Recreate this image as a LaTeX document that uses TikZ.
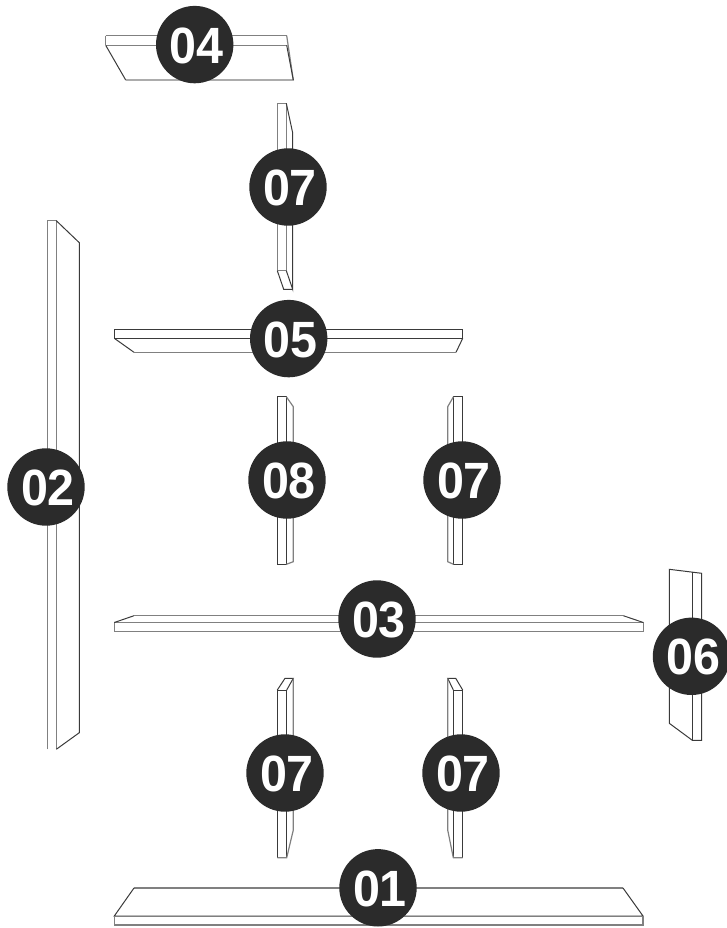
\documentclass[tikz,border=0pt]{standalone}
\usepackage{fontspec}
\setmainfont{Liberation Sans}
\newfontfamily\badgefont[FakeStretch=0.95]{Liberation Sans}
\definecolor{badgefill}{HTML}{2B2B2B}
\definecolor{edgedark}{HTML}{3A3A3A}
\definecolor{edgegray}{HTML}{808080}
\newcommand{\badgetext}[1]{\hspace*{4pt}#1}
\tikzset{
  edgeD/.style={draw=edgedark,line width=1pt,line join=miter},
  edgeG/.style={draw=edgegray,line width=1.2pt,line join=miter},
  badge/.style={circle,fill=badgefill,draw=none,minimum size=77.4pt,inner sep=0pt,
    text=white,text height=37pt,text depth=0pt,font=\badgefont\fontsize{51}{51}\selectfont\bfseries}
}
\begin{document}
\begin{tikzpicture}[x=1pt,y=-1pt]
\useasboundingbox (0,0) rectangle (727,928);
% 04
\draw[edgeG] (105.7,35.7) -- (286.7,35.7);
\draw[edgeG] (105.7,45.3) -- (286.7,45.3);
\draw[edgeG] (105.7,35.7) -- (105.7,45.3);
\draw[edgeD] (105.7,45.3) -- (125.7,80);
\draw[edgeG] (125.7,80) -- (293.3,80) -- (286.7,35.7);
\draw[edgeD] (286.7,45.3) -- (293.3,80);
% 07 top
\draw[edgeG] (277.3,103.3) rectangle (286.3,270.7);
\draw[edgeD] (286.3,103.3) -- (292.7,133) -- (292.7,289.3) -- (286.3,270.7);
\draw[edgeD] (277.3,270.7) -- (283.7,289.3) -- (292.7,289.3);
% 02
\draw[edgeG] (47.3,749.3) -- (47.3,220.7) -- (56.3,220.7) -- (56.3,749.3);
\draw[edgeD] (56.3,220.7) -- (79.3,242.7) -- (79.3,732.7) -- (56.3,749.3);
% 05
\draw[edgeD] (114.3,338.3) -- (114.3,329.3) -- (462.7,329.3) -- (462.7,338.3) -- cycle;
\draw[edgeD] (114.3,338.3) -- (134,352.3);
\draw[edgeD] (462.7,338.3) -- (456,352.3);
\draw[edgeG] (134,352.3) -- (456,352.3);
% 08
\draw[edgeD] (277.5,564.3) -- (277.5,396.7) -- (286.3,396.7) -- (286.3,564.3) -- cycle;
\draw[edgeG] (286.3,396.7) -- (293.3,406.7) -- (293.3,561.7) -- (286.3,564.3);
% 07 middle right
\draw[edgeD] (453.5,564.3) -- (453.5,396.7) -- (462.7,396.7) -- (462.7,564.3) -- cycle;
\draw[edgeG] (453.5,396.7) -- (447.7,406.7) -- (447.7,561.7) -- (453.5,564.3);
% 03
\draw[edgeG] (114.3,622.5) rectangle (643.3,631.7);
\draw[edgeD] (114.3,622.5) -- (134,615.7);
\draw[edgeD] (643.3,622.5) -- (623.3,615.7);
\draw[edgeG] (134,615.7) -- (623.3,615.7);
% 06
\draw[edgeD] (669.3,569.3) -- (701.7,573.3) -- (701.7,740.3) -- (692.3,740.3) -- (669.3,723.3) -- cycle;
\draw[edgeD] (692.3,572.2) -- (692.3,740.3);
% 07 lower left
\draw[edgeD] (277.3,857.7) -- (277.3,690) -- (286.7,690) -- (286.7,857.7);
\draw[edgeD] (277.3,690) -- (285,678.3) -- (293.3,678.3) -- (286.7,690);
\draw[edgeG] (293.3,678.3) -- (293.3,830) -- (286.7,857.7) -- (277.3,857.7);
% 07 lower right
\draw[edgeD] (462.7,857.7) -- (462.7,690) -- (453.3,690) -- (453.3,857.7);
\draw[edgeD] (462.7,690) -- (455.7,678.3) -- (447.7,678.3) -- (453.3,690);
\draw[edgeG] (447.7,678.3) -- (447.7,830) -- (453.3,857.7) -- (462.7,857.7);
% 01
\draw[edgeG] (134,888) -- (623,888);
\draw[edgeD] (134,888) -- (114.3,916) -- (643,916) -- (623,888);
\draw[edgeG] (114.3,916) -- (114.3,925) -- (643,925) -- (643,916);
% badges
\node[badge] (n04) at (194.7,44.6) {\badgetext{04}};
\node[badge] (n07a) at (288,187) {\badgetext{07}};
\node[badge] (n05) at (288.7,338.6) {\badgetext{05}};
\node[badge] (n02) at (46,487) {\badgetext{02}};
\node[badge] (n08) at (287,480) {\badgetext{08}};
\node[badge] (n07b) at (462,480) {\badgetext{07}};
\node[badge] (n03) at (377,619) {\badgetext{03}};
\node[badge] (n06) at (691.5,656.3) {\badgetext{06}};
\node[badge] (n07c) at (285,773) {\badgetext{07}};
\node[badge] (n07d) at (461,773) {\badgetext{07}};
\node[badge] (n01) at (378,887.8) {\badgetext{01}};
\end{tikzpicture}
\end{document}
